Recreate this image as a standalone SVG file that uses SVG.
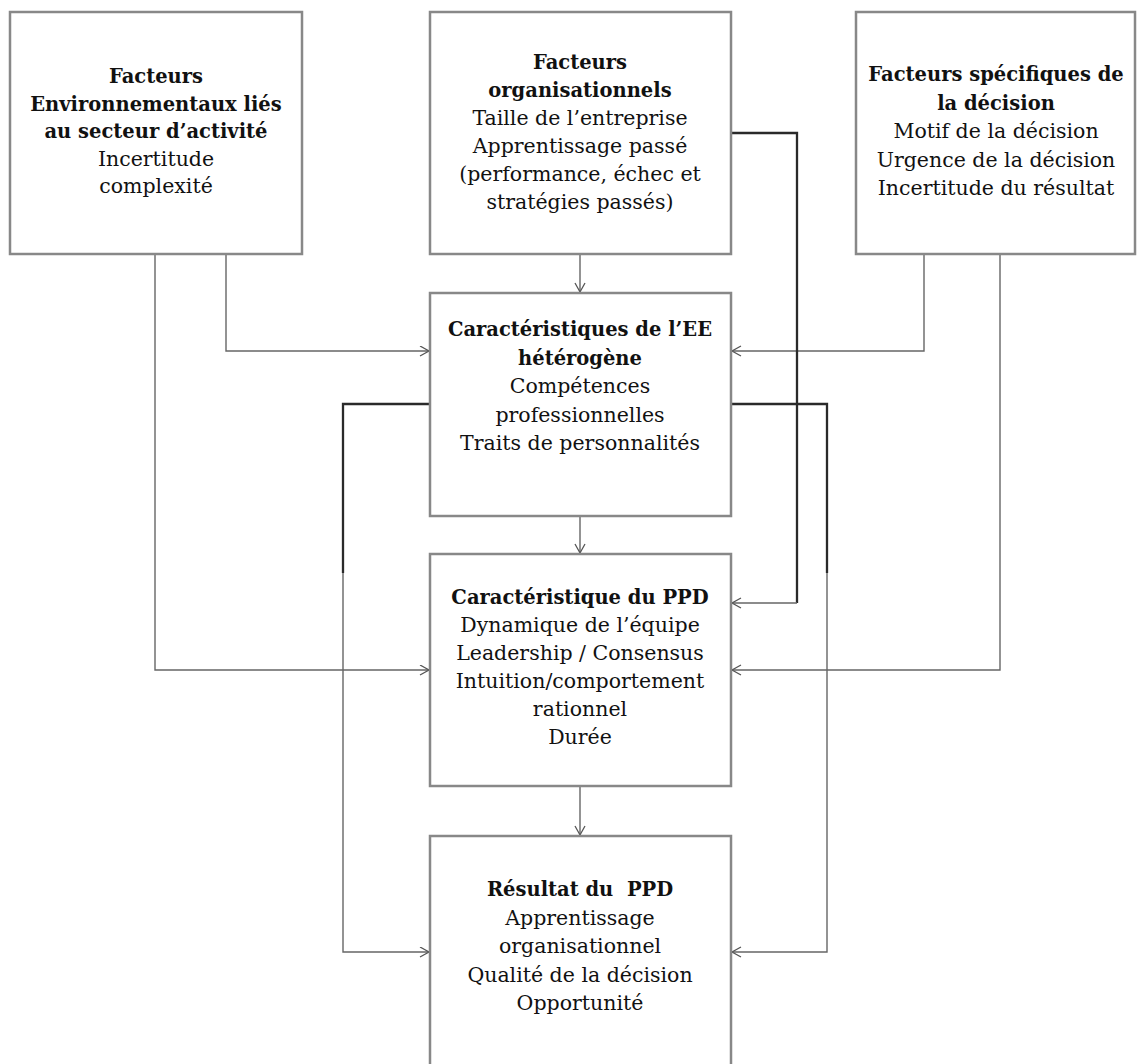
<svg xmlns="http://www.w3.org/2000/svg" width="1137" height="1064" viewBox="0 0 1137 1064">
<defs>
<marker id="arr" markerUnits="userSpaceOnUse" markerWidth="13" markerHeight="13" refX="10" refY="5.5" orient="auto">
<path d="M1,0.5 L10,5.5 L1,10.5" fill="none" stroke="#555" stroke-width="1.3"/>
</marker>
<style>
.box{fill:#fff;stroke:#888;stroke-width:2.5}
.t{font-family:"DejaVu Serif","Liberation Serif",serif;font-size:20.5px;fill:#111;text-anchor:middle}
.b{font-weight:bold;font-size:19.5px}
.c{fill:none;stroke:#666;stroke-width:1.4}
.k{fill:none;stroke:#2a2a2a;stroke-width:2.3}
</style>
</defs>
<rect width="1137" height="1064" fill="#fff"/>
<g id="connectors">
<path class="c" d="M580,255 V292" marker-end="url(#arr)"/>
<path class="c" d="M226,255 V351 H429" marker-end="url(#arr)"/>
<path class="c" d="M155,255 V670 H429" marker-end="url(#arr)"/>
<path class="c" d="M924,255 V351 H732" marker-end="url(#arr)"/>
<path class="c" d="M1000,255 V670 H732" marker-end="url(#arr)"/>
<path class="k" d="M731,133 H797 V603"/>
<path class="c" d="M797,603 H732" marker-end="url(#arr)"/>
<path class="c" d="M580,517 V553" marker-end="url(#arr)"/>
<path class="c" d="M580,787 V835" marker-end="url(#arr)"/>
<path class="k" d="M430,404 H343 V573"/>
<path class="c" d="M343,573 V952 H429" marker-end="url(#arr)"/>
<path class="k" d="M731,404 H827 V573"/>
<path class="c" d="M827,573 V952 H732" marker-end="url(#arr)"/>
</g>
<g id="n-env">
<rect class="box" x="10" y="12" width="292" height="242"/>
<text class="t b" x="156" y="83">Facteurs</text>
<text class="t b" x="156" y="110.5">Environnementaux liés</text>
<text class="t b" x="156" y="138">au secteur d’activité</text>
<text class="t" x="156" y="165.5">Incertitude</text>
<text class="t" x="156" y="193">complexité</text>
</g>
<g id="n-org">
<rect class="box" x="430" y="12" width="301" height="242"/>
<text class="t b" x="580" y="69">Facteurs</text>
<text class="t b" x="580" y="97">organisationnels</text>
<text class="t" x="580" y="125">Taille de l’entreprise</text>
<text class="t" x="580" y="153">Apprentissage passé</text>
<text class="t" x="580" y="181">(performance, échec et</text>
<text class="t" x="580" y="209">stratégies passés)</text>
</g>
<g id="n-dec">
<rect class="box" x="856" y="12" width="279" height="242"/>
<text class="t b" x="996" y="81">Facteurs spécifiques de</text>
<text class="t b" x="996" y="109.5">la décision</text>
<text class="t" x="996" y="138">Motif de la décision</text>
<text class="t" x="996" y="166.5">Urgence de la décision</text>
<text class="t" x="996" y="195">Incertitude du résultat</text>
</g>
<g id="n-ee">
<rect class="box" x="430" y="293" width="301" height="223"/>
<text class="t b" x="580" y="336">Caractéristiques de l’EE</text>
<text class="t b" x="580" y="364.5">hétérogène</text>
<text class="t" x="580" y="393">Compétences</text>
<text class="t" x="580" y="421.5">professionnelles</text>
<text class="t" x="580" y="450">Traits de personnalités</text>
</g>
<g id="n-ppd">
<rect class="box" x="430" y="554" width="301" height="232"/>
<text class="t b" x="580" y="604">Caractéristique du PPD</text>
<text class="t" x="580" y="632">Dynamique de l’équipe</text>
<text class="t" x="580" y="660">Leadership / Consensus</text>
<text class="t" x="580" y="688">Intuition/comportement</text>
<text class="t" x="580" y="716">rationnel</text>
<text class="t" x="580" y="744">Durée</text>
</g>
<g id="n-res">
<rect class="box" x="430" y="836" width="301" height="240"/>
<text class="t b" x="580" y="896" xml:space="preserve">Résultat du  PPD</text>
<text class="t" x="580" y="924.5">Apprentissage</text>
<text class="t" x="580" y="953">organisationnel</text>
<text class="t" x="580" y="981.5">Qualité de la décision</text>
<text class="t" x="580" y="1010">Opportunité</text>
</g>
</svg>
